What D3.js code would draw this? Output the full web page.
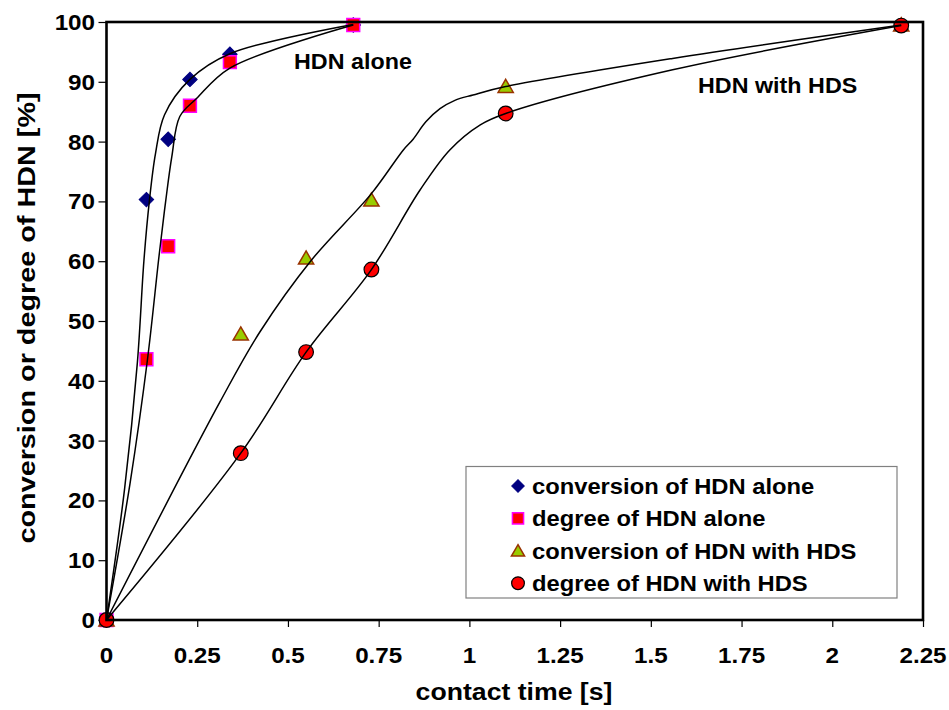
<!DOCTYPE html>
<html>
<head>
<meta charset="utf-8">
<script src="https://cdn.jsdelivr.net/npm/d3@7"></script>
<style>
  body { margin: 0; background: #fff; }
  svg { display: block; }
  text { font-family: Arial, "Liberation Sans", sans-serif; font-weight: bold; fill: #000; }
</style>
</head>
<body>
<svg id="chart" width="949" height="710"></svg>
<script>
// Axis ticks
const xTicks = [0, 0.25, 0.5, 0.75, 1, 1.25, 1.5, 1.75, 2, 2.25];
const xTickLabels = ["0", "0.25", "0.5", "0.75", "1", "1.25", "1.5", "1.75", "2", "2.25"];
const yTicks = [0, 10, 20, 30, 40, 50, 60, 70, 80, 90, 100];

// Measured points: [contact time (s), value (%)]
const convAlone   = [[0, 0], [0.11, 70.3], [0.17, 80.4], [0.23, 90.4], [0.34, 94.6], [0.68, 99.5]];
const degAlone    = [[0, 0], [0.11, 43.6], [0.17, 62.5], [0.23, 86.0], [0.34, 93.3], [0.68, 99.5]];
const convWithHDS = [[0, 0], [0.37, 47.8], [0.55, 60.5], [0.73, 70.2], [1.10, 89.2], [2.19, 99.5]];
const degWithHDS  = [[0, 0], [0.37, 27.9], [0.55, 44.8], [0.73, 58.6], [1.10, 84.7], [2.19, 99.4]];

// Smoothed trend curves drawn through each data set
const fitConvAlone   = [[0, 0], [0.05, 22], [0.085, 43], [0.103, 60], [0.118, 70], [0.135, 78], [0.16, 84.5], [0.23, 90.4], [0.34, 94.7], [0.68, 99.6]];
const fitDegAlone    = [[0, 0], [0.065, 22.9], [0.113, 43.6], [0.145, 61], [0.163, 70], [0.18, 77.5], [0.202, 84.2], [0.248, 87.2], [0.34, 92.3], [0.68, 99.5]];
const fitConvWithHDS = [[0, 0], [0.313, 36.5], [0.423, 48.2], [0.565, 60.2], [0.73, 71.3], [0.818, 78.6], [0.845, 80.4], [0.88, 83.3], [0.919, 85.5], [0.96, 86.9], [1.01, 87.8], [1.10, 89.2], [1.56, 93.9], [2.19, 99.5]];
const fitDegWithHDS  = [[0, 0], [0.37, 27.9], [0.55, 44.8], [0.73, 58.6], [0.864, 71.9], [0.946, 78.6], [1.03, 82.8], [1.10, 84.7], [1.56, 92.0], [2.19, 99.4]];

const legendLabels = ["conversion of HDN alone", "degree of HDN alone", "conversion of HDN with HDS", "degree of HDN with HDS"];

const SX = 1.1; // horizontal glyph stretch
const plot = { left: 106.5, right: 923, top: 22, bottom: 620 };

const svg = d3.select("#chart");
const x = d3.scaleLinear().domain([0, 2.25]).range([plot.left, plot.right]);
const y = d3.scaleLinear().domain([0, 100]).range([plot.bottom, plot.top]);

function label(g, tx, ty, str, anchor, size, rot, sx) {
  return g.append("text")
    .attr("transform", `translate(${tx},${ty})` + (rot ? ` rotate(${rot})` : "") + ` scale(${sx || SX},1)`)
    .attr("text-anchor", anchor)
    .style("font-size", size + "px")
    .text(str);
}

// Axes
const xAxis = d3.axisBottom(x).tickValues(xTicks).tickSize(7).tickFormat("");
const yAxis = d3.axisLeft(y).tickValues(yTicks).tickSize(8).tickFormat("");
const gx = svg.append("g").attr("transform", `translate(0,${plot.bottom})`).call(xAxis);
const gy = svg.append("g").attr("transform", `translate(${plot.left},0)`).call(yAxis);
[gx, gy].forEach(g => {
  g.select(".domain").remove();
  g.selectAll(".tick line").attr("stroke", "#000").attr("stroke-width", 1.2);
});

xTicks.forEach((t, i) => label(svg, x(t), 663, xTickLabels[i], "middle", 22));
yTicks.forEach(t => label(svg, 95, y(t) + 8, String(t), "end", 22));

// Axis titles
label(svg, 514, 700, "contact time [s]", "middle", 24, 0, 1.11);
label(svg, 35, 318, "conversion or degree of HDN [%]", "middle", 24, -90, 1.2);

// Markers
const sym = (type, size) => d3.symbol().type(type).size(size)();
const markerStyles = [
  { data: convAlone,   type: d3.symbolSquare,   rot: 45, size: 105, fill: "#000080", stroke: "#000080", sw: 1 },
  { data: degAlone,    type: d3.symbolSquare,   rot: 0,  size: 165, fill: "#FF0000", stroke: "#FF00FF", sw: 1.5 },
  { data: convWithHDS, type: d3.symbolTriangle, rot: 0,  size: 100, fill: "#99CC00", stroke: "#993300", sw: 1.5 },
  { data: degWithHDS,  type: d3.symbolCircle,   rot: 0,  size: 170, fill: "#FF0000", stroke: "#000000", sw: 1.2 }
];
markerStyles.forEach(m => {
  svg.append("g").selectAll("path").data(m.data).join("path")
    .attr("d", sym(m.type, m.size))
    .attr("transform", d => `translate(${x(d[0])},${y(d[1]) + (m.type === d3.symbolTriangle ? 1.5 : 0)}) rotate(${m.rot})`)
    .attr("fill", m.fill).attr("stroke", m.stroke).attr("stroke-width", m.sw);
});

// Trend curves
const line = d3.line().x(d => x(d[0])).y(d => y(d[1])).curve(d3.curveCatmullRom.alpha(0.5));
[fitConvAlone, fitDegAlone, fitConvWithHDS, fitDegWithHDS].forEach(c => {
  svg.append("path").attr("d", line(c)).attr("fill", "none").attr("stroke", "#000").attr("stroke-width", 1.5);
});

// Plot frame
svg.append("rect")
  .attr("x", plot.left).attr("y", plot.top)
  .attr("width", plot.right - plot.left).attr("height", plot.bottom - plot.top)
  .attr("fill", "none").attr("stroke", "#000").attr("stroke-width", 2.6);

// Annotations
label(svg, 294, 69, "HDN alone", "start", 22, 0, 1.06);
label(svg, 698, 93, "HDN with HDS", "start", 22, 0, 1.06);

// Legend
const lg = svg.append("g");
lg.append("rect").attr("x", 466).attr("y", 466.5).attr("width", 431).attr("height", 131.5)
  .attr("fill", "#fff").attr("stroke", "#808080").attr("stroke-width", 1.2);
markerStyles.forEach((m, i) => {
  const cy = 486 + i * 32.4;
  lg.append("path")
    .attr("d", sym(m.type, m.size * 0.75))
    .attr("transform", `translate(518,${cy + (m.type === d3.symbolTriangle ? 1.5 : 0)}) rotate(${m.rot})`)
    .attr("fill", m.fill).attr("stroke", m.stroke).attr("stroke-width", m.sw);
  label(lg, 532, cy + 8, legendLabels[i], "start", 22, 0, 1.08);
});
</script>
</body>
</html>
